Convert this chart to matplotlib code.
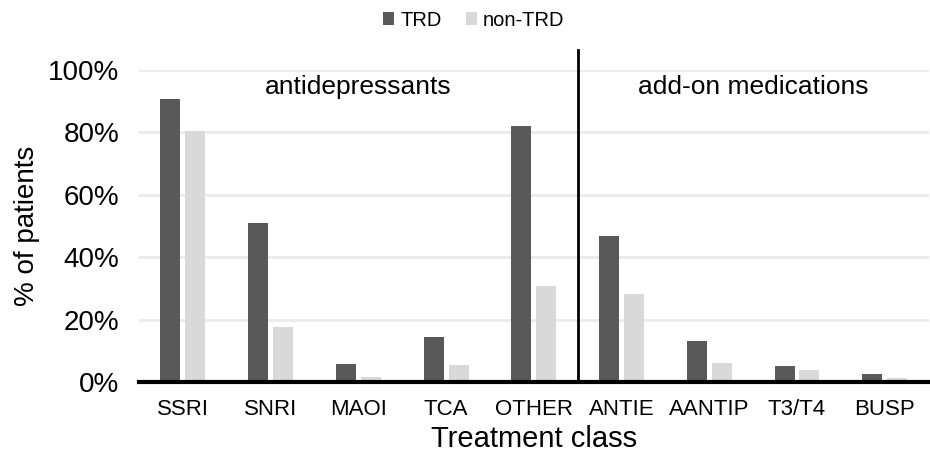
import matplotlib.pyplot as plt
import numpy as np
from matplotlib.ticker import PercentFormatter

plt.rcParams['font.family'] = ['Liberation Sans', 'DejaVu Sans']

classes = ['SSRI', 'SNRI', 'MAOI', 'TCA', 'OTHER', 'ANTIE', 'AANTIP', 'T3/T4', 'BUSP']
trd = [90.8, 51.1, 5.7, 14.5, 82.2, 46.8, 13.1, 5.1, 2.6]
non_trd = [80.4, 17.7, 1.7, 5.3, 30.8, 28.2, 6.2, 3.8, 1.2]
groups = ['antidepressants', 'add-on medications']

fig = plt.figure(figsize=(9.3, 4.55), dpi=100)
ax = fig.add_axes([0.1495, 0.1604, 0.849, 0.6857])

x = np.arange(len(classes))
w = 0.228
ax.bar(x - 0.142, trd, w, color='#595959', label='TRD', zorder=3)
ax.bar(x + 0.142, non_trd, w, color='#d9d9d9', label='non-TRD', zorder=3)

ax.set_xlim(-0.5, len(classes) - 0.5)
ax.set_ylim(0, 100)
ax.set_yticks(range(0, 101, 20))
ax.yaxis.set_major_formatter(PercentFormatter(decimals=0))
ax.grid(axis='y', color='#ebebeb', linewidth=2, zorder=0)
for s in ['top', 'right', 'left']:
    ax.spines[s].set_visible(False)
ax.spines['bottom'].set_linewidth(3)
ax.spines['bottom'].set_zorder(4)
ax.tick_params(axis='both', length=0)
ax.tick_params(axis='y', labelsize=20, pad=14)
ax.tick_params(axis='x', labelsize=16, pad=12)
ax.set_xticks(x)
ax.set_xticklabels(classes)

ax.plot([4.5, 4.5], [0, 106.5], color='black', linewidth=2, clip_on=False, zorder=4)
ax.text(2.0, 94.5, groups[0], ha='center', va='center', fontsize=19)
ax.text(6.5, 94.5, groups[1], ha='center', va='center', fontsize=19)

ax.set_xlabel('Treatment class', fontsize=21, labelpad=4)
ax.set_ylabel('% of patients', fontsize=20, labelpad=6)

ax.legend(loc='center', bbox_to_anchor=(0.424, 1.16), ncol=2, frameon=False,
          fontsize=14.5, handlelength=0.55, handleheight=0.55, handletextpad=0.3,
          columnspacing=1.2)

fig.savefig('out.png', dpi=100)
